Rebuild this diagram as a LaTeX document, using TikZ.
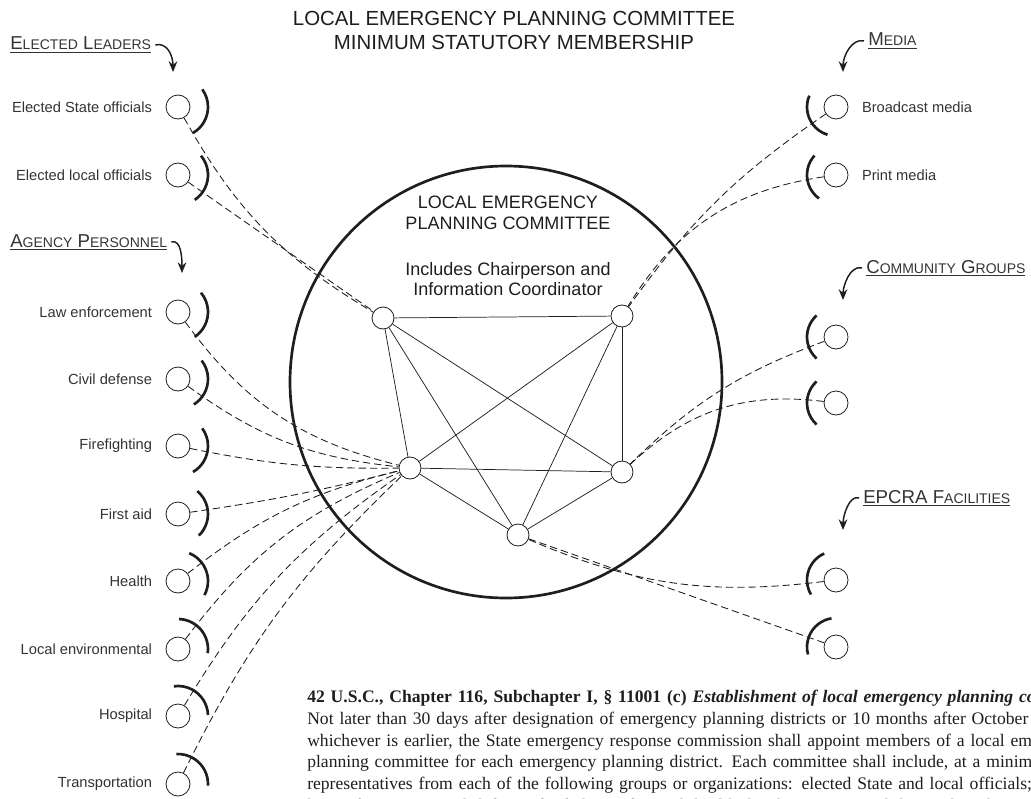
\documentclass[tikz,border=0pt]{standalone}
\usepackage{fontspec}
\setmainfont{Liberation Serif}
\setsansfont{Liberation Sans}
\usetikzlibrary{arrows.meta,calc,positioning}
\definecolor{ink}{HTML}{1E1E1E}
\definecolor{muted}{HTML}{333333}
\newcommand{\capsmall}[1]{{\fontsize{10.5}{12}\selectfont #1}}
\tikzset{
  member/.style={circle,draw=ink,line width=0.6pt,fill=white,minimum size=18pt,inner sep=0pt},
  hub/.style={member,minimum size=16.5pt},
  socket/.style={line width=2pt,draw=ink},
  link/.style={line width=0.65pt,draw=ink,dash pattern=on 5.5pt off 3pt},
  tie/.style={line width=0.55pt,draw=ink},
  ring/.style={circle,draw=ink,line width=2pt,inner sep=0pt,minimum size=324pt},
  memberlabel/.style={font=\sffamily\fontsize{11}{13}\selectfont,text=muted,inner sep=2pt},
  heading/.style={font=\sffamily\fontsize{14}{16}\selectfont,text=muted,inner xsep=3pt,inner ysep=0pt},
  pointer/.style={-{Stealth[length=8pt,width=6.5pt]},line width=1.1pt,draw=ink},
  titletext/.style={font=\sffamily\fontsize{15.3}{18}\selectfont,align=center,text=ink},
  committeetext/.style={font=\sffamily\fontsize{13.5}{15.5}\selectfont,align=center,text=ink}
}
\begin{document}
\begin{tikzpicture}[x=0.75pt,y=0.75pt]
  \useasboundingbox (0,0) rectangle (1031,-799);
  \clip (0,0) rectangle (1031,-799);
  % title
  \node[titletext] (title) at (514,-30) {LOCAL EMERGENCY PLANNING COMMITTEE\\MINIMUM STATUTORY MEMBERSHIP};

  % committee
  \node[ring] (committee) at (506,-382) {};
  \node[committeetext] (lepc) at (508,-213) {LOCAL EMERGENCY\\PLANNING COMMITTEE};
  \node[committeetext] (chair) at (508,-279) {Includes Chairperson and\\Information Coordinator};
  \node[hub] (ha) at (383,-318) {};
  \node[hub] (hb) at (622,-316) {};
  \node[hub] (hc) at (410,-468) {};
  \node[hub] (hd) at (622,-472) {};
  \node[hub] (he) at (518,-535) {};
  \foreach \a/\b in {ha/hb,ha/hc,ha/hd,ha/he,hb/hc,hb/hd,hb/he,hc/hd,hc/he,hd/he}
    \draw[tie] (\a) -- (\b);

  % left side: elected leaders and agency personnel
  \foreach \id/\txt/\y/\mid/\hubname/\bend in {
      stateoff/Elected State officials/107/-12/ha/15,
      localoff/Elected local officials/175/-8/ha/0,
      law/Law enforcement/312/-8/hc/20,
      civil/Civil defense/379/-10/hc/15,
      fire/Firefighting/446/-12/hc/6,
      aid/First aid/514/2/hc/3,
      health/Health/581/20/hc/-12,
      env/Local environmental/649/40/hc/-15,
      hosp/Hospital/716/50/hc/-12,
      trans/Transportation/784/45/hc/-10}
  {
    \node[member] (\id) at (178,-\y) {};
    \node[memberlabel,left=8pt of \id] (\id-label) {\txt};
    \draw[link] (\id) to[bend right=\bend] (\hubname);
    \draw[socket] (\id.center) ++(\mid-48:30) arc[start angle=\mid-48,end angle=\mid+48,radius=30];
  }

  % right side: media
  \foreach \id/\txt/\y/\mid/\hubname/\bend in {
      broadcast/Broadcast media/107/205/hb/10,
      print/Print media/175/186/hb/25}
  {
    \node[member] (\id) at (836,-\y) {};
    \node[memberlabel,right=8pt of \id] (\id-label) {\txt};
    \draw[link] (\id) to[bend right=\bend] (\hubname);
    \draw[socket] (\id.center) ++(\mid-48:29) arc[start angle=\mid-48,end angle=\mid+48,radius=29];
  }
  % right side: community groups and facilities
  \foreach \id/\y/\mid/\hubname/\bend in {
      comm1/337/180/hd/12,
      comm2/403/180/hd/25,
      fac1/580/162/he/-15,
      fac2/647/147/he/0}
  {
    \node[member] (\id) at (836,-\y) {};
    \draw[link] (\id) to[bend right=\bend] (\hubname);
    \draw[socket] (\id.center) ++(\mid-48:29) arc[start angle=\mid-48,end angle=\mid+48,radius=29];
  }

  % group headings
  \node[heading,anchor=base west] (elected) at (6,-50) {\underline{E\capsmall{LECTED} L\capsmall{EADERS}}};
  \coordinate (elected-tip) at (173,-72);
  \draw[pointer] (elected.east) .. controls +(12,3) and +(0,16) .. (elected-tip);
  \node[heading,anchor=base west] (agency) at (6,-247) {\underline{A\capsmall{GENCY} P\capsmall{ERSONNEL}}};
  \coordinate (agency-tip) at (182,-273);
  \draw[pointer] (agency.east) .. controls +(10,3) and +(0,14) .. (agency-tip);
  \node[heading,anchor=base west] (media) at (864,-46) {\underline{M\capsmall{EDIA}}};
  \coordinate (media-tip) at (843,-72);
  \draw[pointer] (media.west) .. controls +(-12,3) and +(0,16) .. (media-tip);
  \node[heading,anchor=base west] (community) at (862,-273) {\underline{C\capsmall{OMMUNITY} G\capsmall{ROUPS}}};
  \coordinate (community-tip) at (843,-300);
  \draw[pointer] (community.west) .. controls +(-12,3) and +(0,14) .. (community-tip);
  \node[heading,anchor=base west] (facilities) at (859,-503) {\underline{EPCRA F\capsmall{ACILITIES}}};
  \coordinate (facilities-tip) at (843,-530);
  \draw[pointer] (facilities.west) .. controls +(-10,3) and +(0,14) .. (facilities-tip);

  % statute text
  \node[anchor=north west,align=left,text width=1000pt,inner sep=0pt,font=\fontsize{13.2}{16.3}\selectfont,text=ink] (statute) at (307,-690) {%
    \textbf{42 U.S.C., Chapter 116, Subchapter I, \S\ 11001 (c) \textit{Establishment of local emergency planning committees}}\\
    Not later than 30 days after designation of emergency planning districts or 10 months after October 17, 1986,\\
    whichever is earlier, the State emergency response commission shall appoint members of a local emergency\\
    planning committee for each emergency planning district. Each committee shall include, at a minimum,\\
    representatives from each of the following groups or organizations: elected State and local officials;\\
    law enforcement, civil defense, firefighting, first aid, health, local environmental, hospital, and transportation};
\end{tikzpicture}
\end{document}
